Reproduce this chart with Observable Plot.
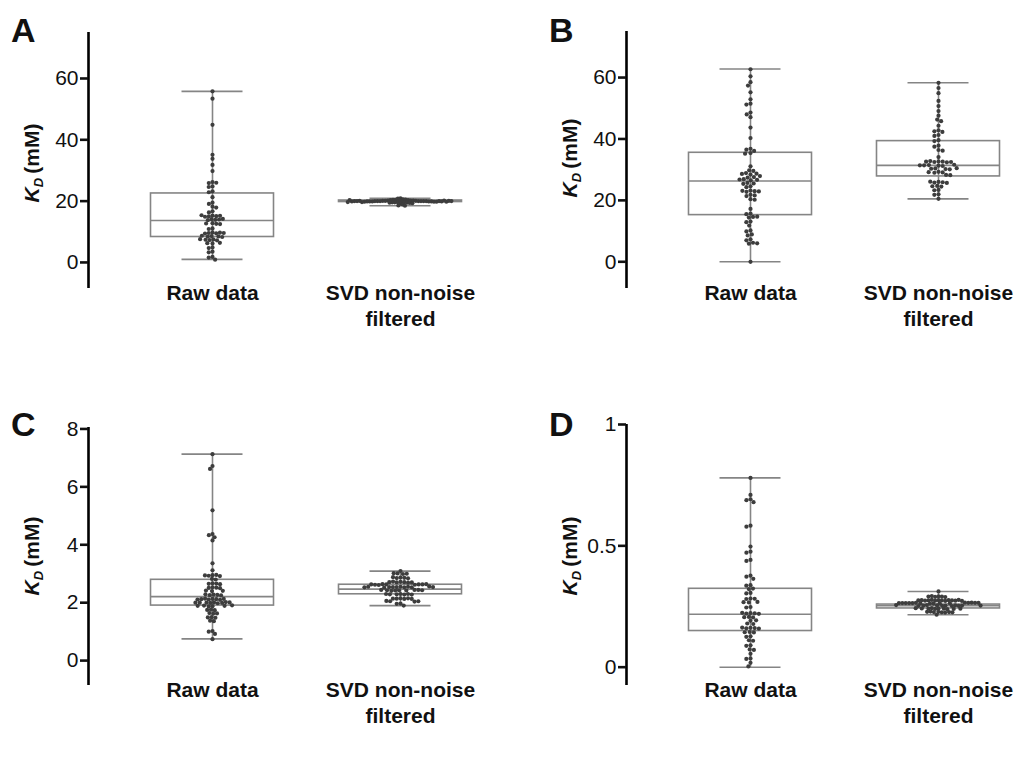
<!DOCTYPE html>
<html><head><meta charset="utf-8">
<script src="https://cdn.jsdelivr.net/npm/d3@7"></script>
<script src="https://cdn.jsdelivr.net/npm/@observablehq/plot@0.6"></script>
<style>
body{margin:0;background:#fff;font-family:Arial,"Liberation Sans",sans-serif;}
#wrap{position:relative;width:1031px;height:775px;overflow:hidden;background:#fff;}
.panel{position:absolute;}
.panel svg{max-width:none !important;}
.letter{position:absolute;font-weight:bold;font-size:34px;line-height:1;color:#111;}
.ytitle{position:absolute;transform:translate(-50%,-50%) rotate(-90deg);font-weight:bold;font-size:21px;white-space:nowrap;color:#111;line-height:1;}
.ytitle sub{font-size:13px;vertical-align:-4px;}
</style></head><body><div id="wrap"></div>
<script>
// ---------- data ----------
const categories = ["Raw data", "SVD non-noise\nfiltered"];

const aTicks = [0, 20, 40, 60];
const bTicks = [0, 20, 40, 60];
const cTicks = [0, 2, 4, 6, 8];
const dTicks = [0, 0.5, 1];

// box statistics: [min, q1, median, q3, max]
const aRawStats = [1.0, 8.3, 13.7, 22.5, 55.8];
const aSvdStats = [18.5, 19.7, 20.0, 20.2, 20.9];
const bRawStats = [0.0, 15.2, 26.3, 35.5, 62.8];
const bSvdStats = [20.5, 27.8, 31.4, 39.3, 58.3];
const cRawStats = [0.75, 1.9, 2.21, 2.79, 7.13];
const cSvdStats = [1.9, 2.29, 2.47, 2.62, 3.09];
const dRawStats = [0.0, 0.149, 0.218, 0.323, 0.780];
const dSvdStats = [0.216, 0.242, 0.253, 0.258, 0.312];

const aRaw = [55.8, 53.4, 44.9, 35.1, 33.8, 31.8, 29.8, 26.2, 25.9, 26.0, 24.8, 24.6, 23.2, 22.9, 21.3, 19.5, 19.1, 18.2, 17.9, 16.7, 16.3, 15.3, 15.1, 15.0, 14.9, 15.2, 15.4, 14.1, 13.9, 14.0, 14.2, 13.8, 12.8, 12.6, 12.7, 12.5, 11.1, 10.9, 9.8, 9.6, 9.5, 9.7, 9.4, 9.6, 8.6, 8.4, 8.5, 8.7, 8.3, 7.5, 7.3, 7.4, 7.6, 7.2, 6.4, 6.2, 6.3, 4.9, 4.7, 3.5, 3.3, 1.8, 1.6, 0.9];
const aSvd = [20.9, 20.8, 20.6, 20.5, 20.4, 20.4, 20.3, 20.3, 20.2, 20.2, 20.2, 20.1, 20.1, 20.1, 20.1, 20.0, 20.0, 20.0, 20.0, 20.0, 20.0, 20.0, 19.9, 19.9, 19.9, 19.9, 19.9, 19.8, 19.8, 19.8, 19.8, 19.7, 19.7, 19.7, 19.6, 19.6, 19.5, 19.5, 19.4, 19.3, 19.2, 18.9, 18.6, 18.5, 20.0, 20.1, 19.9, 20.0, 20.2, 19.8, 20.0, 20.1, 19.9, 20.0, 20.3, 19.7];
const bRaw = [62.7, 60.4, 58.5, 57.4, 55.2, 52.9, 51.5, 51.2, 48.6, 48.0, 47.1, 43.7, 40.3, 36.8, 36.5, 36.1, 35.4, 35.2, 31.1, 29.8, 29.6, 28.9, 28.7, 28.6, 28.4, 27.9, 27.6, 27.4, 26.9, 26.7, 26.5, 26.8, 25.7, 25.5, 25.4, 24.6, 24.3, 23.2, 23.0, 22.8, 23.1, 22.9, 21.8, 21.6, 21.4, 20.4, 20.2, 17.2, 15.7, 15.5, 14.6, 14.4, 14.7, 13.1, 12.9, 11.8, 10.2, 9.9, 8.9, 8.6, 7.3, 7.0, 6.2, 6.0, 5.9, 0.0];
const bSvd = [58.3, 56.6, 54.9, 52.4, 50.7, 49.1, 47.6, 46.3, 45.8, 44.3, 42.8, 42.5, 42.3, 41.3, 41.0, 39.6, 39.3, 37.8, 37.5, 36.4, 36.2, 34.1, 32.7, 32.5, 32.6, 32.4, 32.8, 32.6, 32.5, 31.5, 31.3, 31.4, 31.6, 31.2, 31.4, 30.4, 30.2, 30.3, 30.1, 30.5, 29.3, 29.1, 29.2, 29.0, 28.3, 28.2, 26.0, 25.8, 25.9, 26.1, 25.7, 24.7, 24.5, 24.6, 23.4, 23.3, 22.0, 21.8, 20.5];
const cRaw = [7.13, 6.72, 6.62, 5.19, 4.37, 4.33, 4.26, 4.15, 3.36, 3.12, 2.95, 2.93, 2.96, 2.92, 2.94, 2.82, 2.80, 2.67, 2.65, 2.66, 2.64, 2.53, 2.51, 2.52, 2.50, 2.42, 2.40, 2.41, 2.28, 2.26, 2.27, 2.29, 2.25, 2.13, 2.11, 2.12, 2.14, 2.10, 2.12, 2.13, 2.11, 2.01, 1.99, 2.00, 2.02, 1.98, 2.00, 2.01, 1.99, 2.00, 1.90, 1.88, 1.89, 1.91, 1.87, 1.89, 1.76, 1.74, 1.75, 1.64, 1.62, 1.63, 1.50, 1.48, 1.49, 1.38, 1.36, 1.02, 1.00, 0.92, 0.74];
const cSvd = [3.09, 3.01, 2.99, 3.00, 3.02, 2.87, 2.85, 2.86, 2.88, 2.84, 2.72, 2.70, 2.71, 2.73, 2.69, 2.71, 2.70, 2.63, 2.62, 2.64, 2.63, 2.61, 2.63, 2.62, 2.64, 2.63, 2.55, 2.54, 2.53, 2.55, 2.54, 2.56, 2.53, 2.54, 2.55, 2.52, 2.54, 2.53, 2.44, 2.43, 2.42, 2.44, 2.43, 2.42, 2.44, 2.43, 2.41, 2.30, 2.29, 2.28, 2.30, 2.29, 2.28, 2.30, 2.15, 2.14, 2.13, 2.15, 2.14, 2.13, 2.05, 2.04, 2.06, 2.05, 1.97, 1.96, 1.90];
const dRaw = [0.780, 0.710, 0.692, 0.688, 0.680, 0.583, 0.579, 0.497, 0.476, 0.472, 0.442, 0.438, 0.377, 0.373, 0.364, 0.338, 0.336, 0.324, 0.322, 0.306, 0.304, 0.283, 0.281, 0.282, 0.269, 0.267, 0.268, 0.248, 0.246, 0.223, 0.221, 0.222, 0.224, 0.220, 0.207, 0.205, 0.206, 0.193, 0.191, 0.180, 0.178, 0.162, 0.160, 0.161, 0.163, 0.159, 0.145, 0.143, 0.144, 0.127, 0.125, 0.111, 0.109, 0.090, 0.088, 0.073, 0.071, 0.055, 0.036, 0.034, 0.018, 0.003];
const dSvd = [0.312, 0.292, 0.290, 0.291, 0.289, 0.293, 0.291, 0.276, 0.274, 0.275, 0.277, 0.273, 0.275, 0.276, 0.274, 0.275, 0.276, 0.274, 0.275, 0.277, 0.273, 0.265, 0.263, 0.264, 0.266, 0.262, 0.264, 0.265, 0.263, 0.264, 0.266, 0.262, 0.264, 0.265, 0.263, 0.264, 0.265, 0.255, 0.253, 0.254, 0.256, 0.252, 0.254, 0.255, 0.253, 0.254, 0.256, 0.252, 0.254, 0.242, 0.240, 0.241, 0.243, 0.239, 0.241, 0.242, 0.240, 0.241, 0.243, 0.228, 0.226, 0.227, 0.229, 0.225, 0.227, 0.228, 0.226, 0.216];

// ---------- layout ----------
const W = 490, ML = 88, UNIT = 188, OFF = 124, MB = 70, R = 2.1;
const X0 = -OFF / UNIT, X1 = (W - ML - OFF) / UNIT, XMID = (X0 + X1) / 2;
const BOXHALF = 61.5 / UNIT, CAPHALF = 30.5 / UNIT;
const wrap = document.getElementById("wrap");

function panel(cfg) {
  const statRows = cfg.stats.map((s, i) => ({pos: i, min: s[0], q1: s[1], med: s[2], q3: s[3], max: s[4]}));
  const grey = "#858585";
  const marks = [
    Plot.ruleX(statRows, {x: "pos", y1: "min", y2: "max", stroke: grey, strokeWidth: 1.6}),
    Plot.ruleY(statRows, {y: "min", x1: d => d.pos - CAPHALF, x2: d => d.pos + CAPHALF, stroke: grey, strokeWidth: 1.6}),
    Plot.ruleY(statRows, {y: "max", x1: d => d.pos - CAPHALF, x2: d => d.pos + CAPHALF, stroke: grey, strokeWidth: 1.6}),
    Plot.rect(statRows, {x1: d => d.pos - BOXHALF, x2: d => d.pos + BOXHALF, y1: "q1", y2: "q3", fill: "none", stroke: grey, strokeWidth: 1.6}),
    Plot.ruleY(statRows, {y: "med", x1: d => d.pos - BOXHALF, x2: d => d.pos + BOXHALF, stroke: grey, strokeWidth: 1.6}),
    ...cfg.groups.map((vals, i) => Plot.dot(vals, Plot.dodgeX({anchor: "middle", padding: cfg.pads[i], r: R},
      {y: d => d, r: R, fill: "#3d3d3d", stroke: "none", dx: (i - XMID) * UNIT}))),
    Plot.ruleX([X0], {stroke: "#000", strokeWidth: 2.6}),
    Plot.axisY(cfg.ticks, {tickSize: 8, tickPadding: 2, fontSize: 21, strokeWidth: 2.6, color: "#111", label: null, tickFormat: d => String(d)}),
    Plot.axisX([0, 1], {tickFormat: i => categories[i], tickSize: 0, tickPadding: -7, fontSize: 21, fontWeight: "bold", color: "#111", label: null, lineHeight: 1.25})
  ];
  const svg = Plot.plot({
    width: W, height: cfg.frameBottom - cfg.top + MB,
    marginLeft: ML, marginRight: 0, marginTop: cfg.frameTop - cfg.top, marginBottom: MB,
    x: {domain: [X0, X1]}, y: {domain: cfg.yDomain},
    style: {fontFamily: "Arial, 'Liberation Sans', sans-serif", background: "transparent", overflow: "visible", maxWidth: "none"},
    marks
  });
  const div = document.createElement("div");
  div.className = "panel";
  div.style.left = cfg.left + "px"; div.style.top = cfg.top + "px";
  div.appendChild(svg);
  wrap.appendChild(div);
  const L = document.createElement("div");
  L.className = "letter"; L.textContent = cfg.letter;
  L.style.left = (cfg.left + 11) + "px"; L.style.top = (cfg.top + cfg.letterTop) + "px";
  wrap.appendChild(L);
  const T = document.createElement("div");
  T.className = "ytitle";
  T.innerHTML = "<i>K</i><sub><i>D</i></sub>&thinsp;(mM)";
  T.style.left = (cfg.left + 33) + "px"; T.style.top = cfg.titleY + "px";
  wrap.appendChild(T);
}

panel({letter: "A", left: 0, top: 0, frameTop: 32, frameBottom: 288, yDomain: [-8.5, 75], ticks: aTicks,
  stats: [aRawStats, aSvdStats], groups: [aRaw, aSvd], pads: [-0.4, -1.6], letterTop: 13, titleY: 163});
panel({letter: "B", left: 538, top: 0, frameTop: 31, frameBottom: 288, yDomain: [-8.7, 75], ticks: bTicks,
  stats: [bRawStats, bSvdStats], groups: [bRaw, bSvd], pads: [0.0, 0.0], letterTop: 13, titleY: 158});
panel({letter: "C", left: 0, top: 395, frameTop: 427, frameBottom: 685, yDomain: [-0.86, 8.05], ticks: cTicks,
  stats: [cRawStats, cSvdStats], groups: [cRaw, cSvd], pads: [-0.4, -0.4], letterTop: 12, titleY: 556});
panel({letter: "D", left: 538, top: 395, frameTop: 424, frameBottom: 685, yDomain: [-0.0755, 1], ticks: dTicks,
  stats: [dRawStats, dSvdStats], groups: [dRaw, dSvd], pads: [0.0, -0.8], letterTop: 12, titleY: 556});
</script>
</body></html>
